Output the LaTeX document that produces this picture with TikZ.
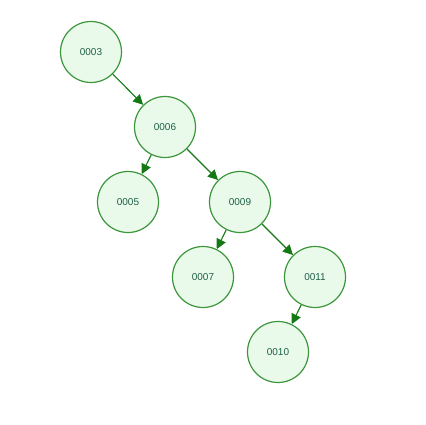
\documentclass[tikz,border=0pt]{standalone}
\usepackage{fontspec}
\setmainfont{Liberation Sans}
\usepackage{xcolor}
\usepackage{tikz}
\usetikzlibrary{arrows.meta}
\definecolor{treeline}{RGB}{60,150,60}
\definecolor{treefill}{RGB}{234,250,234}
\definecolor{treearrow}{RGB}{20,120,20}
\definecolor{treetext}{RGB}{30,95,70}
\tikzstyle{keynode}=[treetext, draw=treeline, line width=1.2pt, shape=circle, fill=treefill, minimum size=61pt, inner sep=0pt, font=\fontsize{10}{12}\selectfont]

\begin{document}
\begin{tikzpicture}[x=1pt, y=-1pt]
\useasboundingbox (0,0) rectangle (426,425);
\node [keynode] (k3) at (91,52) {0003};
\node [keynode] (k6) at (165,127) {0006};
\node [keynode] (k5) at (128,202) {0005};
\node [keynode] (k9) at (240,202) {0009};
\node [keynode] (k7) at (203,277) {0007};
\node [keynode] (k11) at (315,277) {0011};
\node [keynode] (k10) at (278,352) {0010};

\draw[-{Triangle[length=10pt, width=10pt]}, line width=1.1pt, color=treearrow] (k3) -- (k6);
\draw[-{Triangle[length=10pt, width=10pt]}, line width=1.1pt, color=treearrow] (k6) -- (k5);
\draw[-{Triangle[length=10pt, width=10pt]}, line width=1.1pt, color=treearrow] (k6) -- (k9);
\draw[-{Triangle[length=10pt, width=10pt]}, line width=1.1pt, color=treearrow] (k9) -- (k7);
\draw[-{Triangle[length=10pt, width=10pt]}, line width=1.1pt, color=treearrow] (k9) -- (k11);
\draw[-{Triangle[length=10pt, width=10pt]}, line width=1.1pt, color=treearrow] (k11) -- (k10);
\end{tikzpicture}
\end{document}
